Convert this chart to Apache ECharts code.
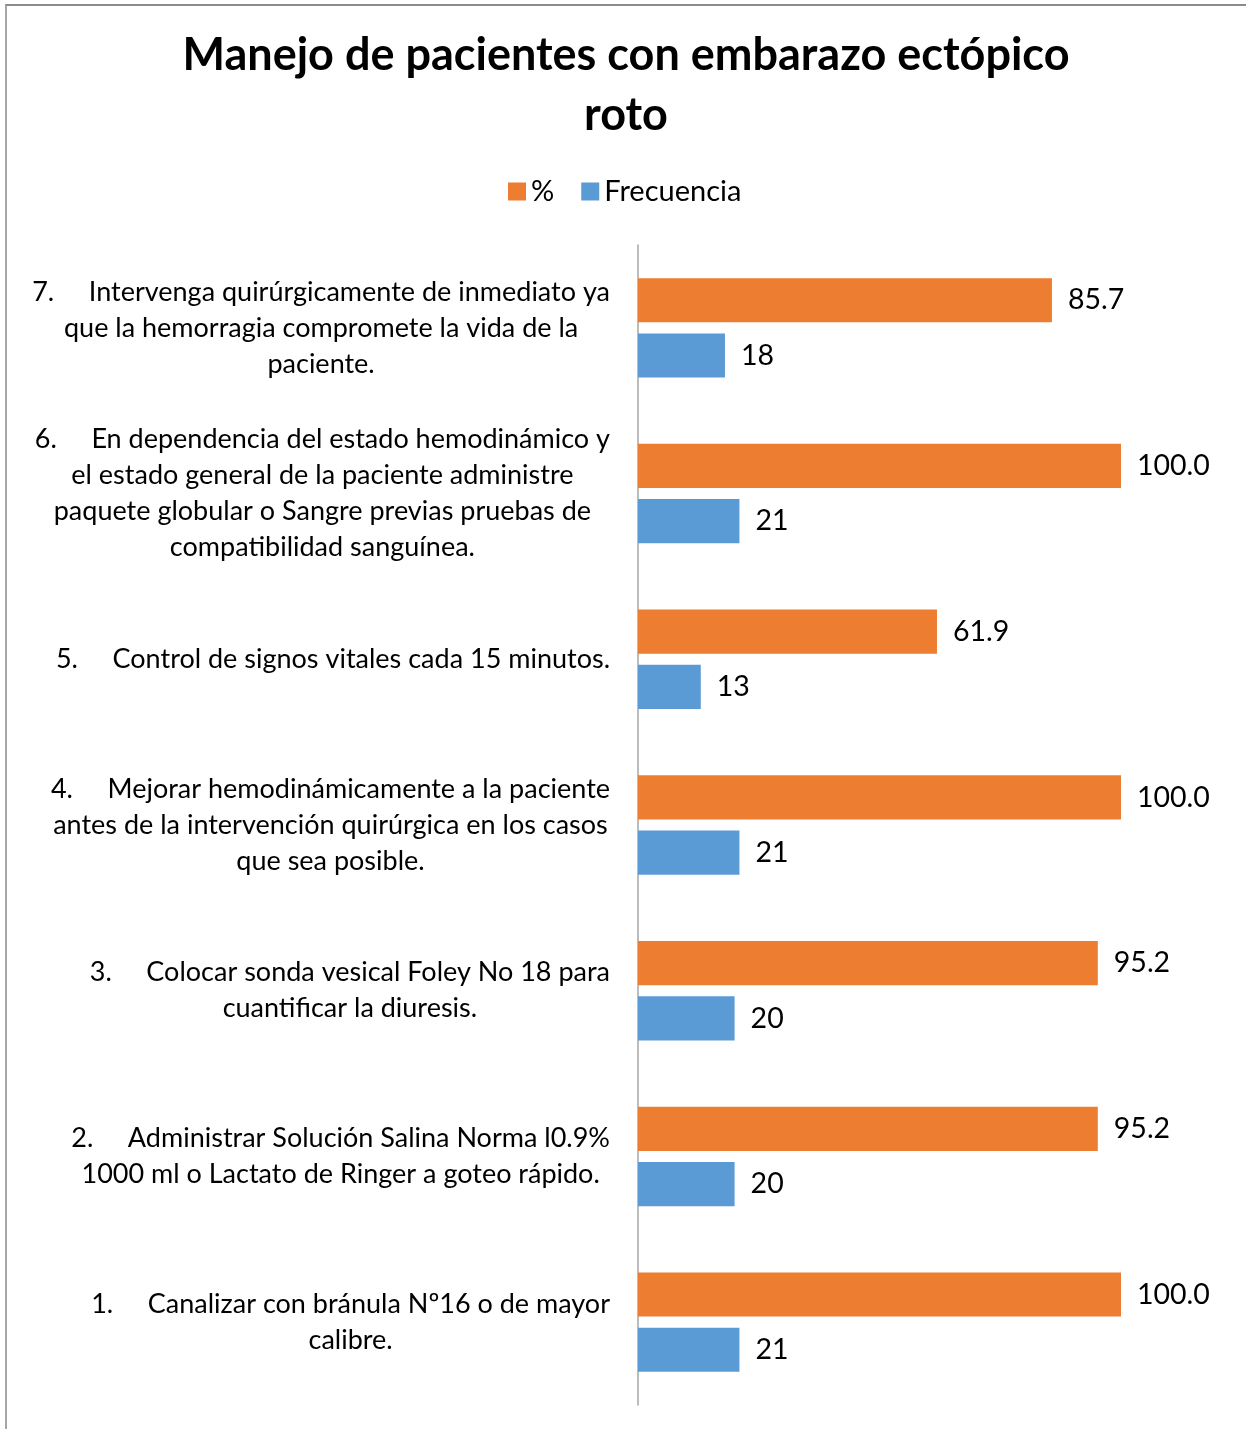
<!DOCTYPE html>
<html>
<head>
<meta charset="utf-8">
<script src="https://cdn.jsdelivr.net/npm/echarts@6/dist/echarts.min.js"></script>
<style>
  html, body { margin: 0; padding: 0; background: #fff; }
  #frame { position: absolute; left: 5px; top: 4px; width: 1241px; height: 1425px; border-top: 2px solid #8c8c8c; border-left: 2px solid #a6a6a6; box-sizing: border-box; pointer-events: none; }
  #chart { position: absolute; left: 0; top: 0; width: 1246px; height: 1429px; }
</style>
</head>
<body>
<div id="chart"></div>
<div id="frame"></div>
<script>
// Categories, bottom (1) to top (7); each entry is a list of label lines
const categories = [
  ['1.     Canalizar con bránula Nº16 o de mayor', 'calibre.'],
  ['2.     Administrar Solución Salina Norma l0.9%', '1000 ml o Lactato de Ringer a goteo rápido.'],
  ['3.     Colocar sonda vesical Foley No 18 para', 'cuantificar la diuresis.'],
  ['4.     Mejorar hemodinámicamente a la paciente', 'antes de la intervención quirúrgica en los casos', 'que sea posible.'],
  ['5.     Control de signos vitales cada 15 minutos.'],
  ['6.     En dependencia del estado hemodinámico y', 'el estado general de la paciente administre', 'paquete globular o Sangre previas pruebas de', 'compatibilidad sanguínea.'],
  ['7.     Intervenga quirúrgicamente de inmediato ya', 'que la hemorragia compromete la vida de la', 'paciente.']
];
const seriesNames = ['%', 'Frecuencia'];
const percentValues = [100.0, 95.2, 95.2, 100.0, 61.9, 100.0, 85.7];
const frecuenciaValues = [21, 20, 20, 21, 13, 21, 18];

const FONT = 'Lato';
const chart = echarts.init(document.getElementById('chart'), null, { renderer: 'canvas' });

const labelText = categories.map(lines => lines.map(l => '{c|' + l + '}').join('\n'));

const option = {
  backgroundColor: '#ffffff',
  animation: false,
  title: {
    text: 'Manejo de pacientes con embarazo ectópico\nroto',
    left: 621,
    textAlign: 'center',
    top: 20,
    textStyle: { fontFamily: FONT, fontSize: 45, fontWeight: 'bold', color: '#000', lineHeight: 60 }
  },
  legend: {
    data: seriesNames,
    top: 172,
    left: 503,
    itemWidth: 18,
    itemHeight: 18,
    itemGap: 27,
    icon: 'rect',
    textStyle: { fontFamily: FONT, fontSize: 29, color: '#000', lineHeight: 29 }
  },
  grid: { left: 638, right: 125, top: 245, bottom: 24, containLabel: false },
  xAxis: {
    type: 'value', min: 0, max: 100, show: false
  },
  yAxis: {
    type: 'category',
    data: labelText,
    axisLine: { show: true, lineStyle: { color: '#a6a6a6', width: 1.5 } },
    axisTick: { show: false },
    splitLine: { show: false },
    axisLabel: {
      margin: 28,
      interval: 0,
      color: '#000',
      fontFamily: FONT,
      fontSize: 27,
      lineHeight: 36,
      rich: { c: { align: 'center', fontFamily: FONT, fontSize: 27, lineHeight: 36, color: '#000' } }
    }
  },
  series: [
    {
      name: seriesNames[0], type: 'bar', data: percentValues,
      barGap: '25%', barCategoryGap: '40%',
      itemStyle: { color: '#ED7D31' },
      label: { show: true, position: 'right', distance: 16, fontFamily: FONT, fontSize: 28.5, color: '#000',
        formatter: p => p.value.toFixed(1) }
    },
    {
      name: seriesNames[1], type: 'bar', data: frecuenciaValues,
      barGap: '25%', barCategoryGap: '40%',
      itemStyle: { color: '#5B9BD5' },
      label: { show: true, position: 'right', distance: 16, fontFamily: FONT, fontSize: 28.5, color: '#000',
        formatter: p => String(p.value) }
    }
  ]
};
chart.setOption(option);
</script>
</body>
</html>
